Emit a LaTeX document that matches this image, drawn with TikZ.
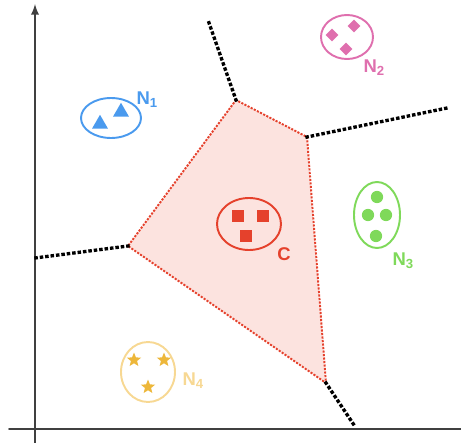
\documentclass[tikz,border=0pt]{standalone}
\usepackage{fontspec}
\setmainfont{Liberation Sans}
\usetikzlibrary{shapes.geometric}
\definecolor{cblue}{HTML}{4A9AEE}
\definecolor{cpink}{HTML}{DF6FAE}
\definecolor{cred}{HTML}{E5412C}
\definecolor{cgreen}{HTML}{7FD95A}
\definecolor{cyellow}{HTML}{F7D893}
\definecolor{cstar}{HTML}{EDB73A}
\definecolor{cfill}{HTML}{FCE3DF}
\definecolor{caxis}{HTML}{404040}
\newcommand{\clab}[2]{\textbf{#1\raisebox{-1.6pt}{\fontsize{7.5}{7.5}\selectfont #2}}}
\begin{document}
\begin{tikzpicture}[x=0.02cm, y=-0.02cm, line cap=round, line join=round,
    axis/.style={line width=1.1pt, caxis},
    border/.style={line width=1.9pt, line cap=rect, dash pattern=on 0.1pt off 3pt},
    cell/.style={cred, line width=1.1pt, line cap=rect, dash pattern=on 0.1pt off 1.9pt},
    grp/.style={draw, line width=1.1pt},
    tri/.style={regular polygon, regular polygon sides=3, fill=cblue, inner sep=0pt, minimum size=10.5pt},
    dia/.style={diamond, fill=cpink, inner sep=0pt, minimum size=7.5pt},
    sq/.style={rectangle, fill=cred, inner sep=0pt, minimum size=7pt},
    dot/.style={circle, fill=cgreen, inner sep=0pt, minimum size=7pt},
    st/.style={star, star point ratio=2.3, fill=cstar, inner sep=0pt, minimum size=8.5pt},
    lab/.style={inner sep=1pt, font=\fontsize{10.5}{12}\selectfont}]
  \useasboundingbox (0,0) rectangle (461,443);
  % axes
  \coordinate (o) at (35,429);
  \coordinate (ytop) at (35,4);
  \coordinate (ybot) at (35,443);
  \coordinate (xl) at (9,429);
  \coordinate (xr) at (461,429);
  \draw[axis, -latex] (ybot) -- (ytop);
  \draw[axis] (xl) -- (xr);
  % cell of C
  \coordinate (v1) at (236,100);
  \coordinate (v2) at (307,137);
  \coordinate (v3) at (326,383);
  \coordinate (v4) at (128,246);
  \fill[cfill] (v1) -- (v2) -- (v3) -- (v4) -- cycle;
  \draw[cell] (v1) -- (v2) -- (v3) -- (v4) -- cycle;
  % borders to the other groups
  \coordinate (e1) at (208,20);
  \coordinate (e2) at (447,108);
  \coordinate (e3) at (35,258);
  \coordinate (e4) at (356,428);
  \draw[border] (v1) -- (e1);
  \draw[border] (v2) -- (e2);
  \draw[border] (v4) -- (e3);
  \draw[border] (v3) -- (e4);
  % N1
  \draw[grp, cblue] (111,118) ellipse[x radius=30, y radius=20];
  \node[tri] (t1) at (100,124) {};
  \node[tri] (t2) at (121,112) {};
  \node[lab, cblue] (n1) at (147,100) {\clab{N}{1}};
  % N2
  \draw[grp, cpink] (347,37) ellipse[x radius=26, y radius=22];
  \node[dia] (d1) at (332,35) {};
  \node[dia] (d2) at (354,26) {};
  \node[dia] (d3) at (346,49) {};
  \node[lab, cpink] (n2) at (374,68) {\clab{N}{2}};
  % C
  \draw[grp, cred] (249,224) ellipse[x radius=32, y radius=26];
  \node[sq] (s1) at (238,216) {};
  \node[sq] (s2) at (263,216) {};
  \node[sq] (s3) at (246,236) {};
  \node[lab, cred] (nc) at (284,254) {\textbf{C}};
  % N3
  \draw[grp, cgreen] (377,215) ellipse[x radius=23, y radius=33];
  \node[dot] (g1) at (377,197) {};
  \node[dot] (g2) at (368,215) {};
  \node[dot] (g3) at (386,215) {};
  \node[dot] (g4) at (376,236) {};
  \node[lab, cgreen] (n3) at (403,261) {\clab{N}{3}};
  % N4
  \draw[grp, cyellow] (148,372) ellipse[x radius=27, y radius=30];
  \node[st] (k1) at (134,360) {};
  \node[st] (k2) at (164,360) {};
  \node[st] (k3) at (148,387) {};
  \node[lab, cyellow] (n4) at (193,381) {\clab{N}{4}};
\end{tikzpicture}
\end{document}
